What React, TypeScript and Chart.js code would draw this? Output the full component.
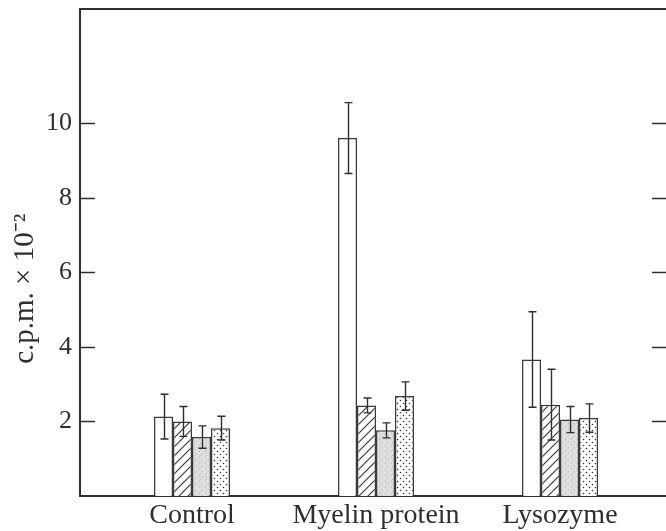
import React, { useEffect, useRef } from 'react';
import { Chart, registerables } from 'chart.js';

Chart.register(...registerables);

const categories = ['Control', 'Myelin protein', 'Lysozyme'];
const openValues = [2.13, 9.6, 3.66];
const openErrors = [0.6, 0.95, 1.28];
const hatchedValues = [2.0, 2.43, 2.45];
const hatchedErrors = [0.4, 0.2, 0.95];
const greyValues = [1.58, 1.76, 2.05];
const greyErrors = [0.3, 0.2, 0.35];
const dottedValues = [1.82, 2.68, 2.09];
const dottedErrors = [0.32, 0.38, 0.38];
const yTicks = [2, 4, 6, 8, 10];
const yTitle = 'c.p.m. \u00d7 10\u207b\u00b2';

const INK = '#2e2e2e';

function makeTile(size: number, draw: (c: CanvasRenderingContext2D) => void): CanvasPattern | string {
  const cv = document.createElement('canvas');
  cv.width = size;
  cv.height = size;
  const c = cv.getContext('2d');
  if (!c) return '#fff';
  draw(c);
  const p = c.createPattern(cv, 'repeat');
  return p || '#fff';
}

const errorBarPlugin = {
  id: 'errorBars',
  afterDatasetsDraw(chart: any) {
    const ctx = chart.ctx;
    const ys = chart.scales.y;
    ctx.save();
    ctx.strokeStyle = INK;
    ctx.lineWidth = 1.4;
    chart.data.datasets.forEach((ds: any, di: number) => {
      const meta = chart.getDatasetMeta(di);
      meta.data.forEach((bar: any, i: number) => {
        const v = ds.data[i].y;
        const e = ds.errors[i];
        const x = Math.round(bar.x) + 0.5;
        const top = ys.getPixelForValue(v + e);
        const bot = ys.getPixelForValue(v - e);
        const cap = 4;
        ctx.beginPath();
        ctx.moveTo(x, top);
        ctx.lineTo(x, bot);
        ctx.moveTo(x - cap, top);
        ctx.lineTo(x + cap, top);
        ctx.moveTo(x - cap, bot);
        ctx.lineTo(x + cap, bot);
        ctx.stroke();
      });
    });
    ctx.restore();
  },
};

const framePlugin = {
  id: 'frame',
  afterDraw(chart: any) {
    const ctx = chart.ctx;
    const ca = chart.chartArea;
    const ys = chart.scales.y;
    ctx.save();
    ctx.strokeStyle = INK;
    ctx.lineWidth = 2;
    ctx.beginPath();
    ctx.moveTo(ca.left, ca.top);
    ctx.lineTo(ca.right, ca.top);
    ctx.stroke();
    ctx.lineWidth = 1.3;
    ys.ticks.forEach((t: any) => {
      const py = Math.round(ys.getPixelForValue(t.value)) + 0.5;
      ctx.beginPath();
      ctx.moveTo(ca.left, py);
      ctx.lineTo(ca.left + 15, py);
      ctx.moveTo(ca.right - 14, py);
      ctx.lineTo(ca.right, py);
      ctx.stroke();
    });
    ctx.restore();
  },
};

export default function App() {
  const ref = useRef<HTMLCanvasElement>(null);

  useEffect(() => {
    if (!ref.current) return;

    const hatch = makeTile(9, (c) => {
      c.fillStyle = '#ffffff';
      c.fillRect(0, 0, 9, 9);
      c.strokeStyle = '#333';
      c.lineWidth = 1.1;
      c.beginPath();
      c.moveTo(0, 9);
      c.lineTo(9, 0);
      c.moveTo(-1, 1);
      c.lineTo(1, -1);
      c.moveTo(8, 10);
      c.lineTo(10, 8);
      c.stroke();
    });

    const grey = makeTile(6, (c) => {
      c.fillStyle = '#dcdcdc';
      c.fillRect(0, 0, 6, 6);
      c.fillStyle = '#bcbcbc';
      c.fillRect(1, 1, 1, 1);
      c.fillRect(4, 3, 1, 1);
      c.fillRect(2, 5, 1, 1);
      c.fillStyle = '#f0f0f0';
      c.fillRect(3, 0, 1, 1);
      c.fillRect(0, 4, 1, 1);
      c.fillRect(5, 2, 1, 1);
    });

    const dotted = makeTile(6, (c) => {
      c.fillStyle = '#ffffff';
      c.fillRect(0, 0, 6, 6);
      c.fillStyle = '#333';
      c.beginPath();
      c.arc(1.5, 1.5, 0.8, 0, Math.PI * 2);
      c.arc(4.5, 4.5, 0.8, 0, Math.PI * 2);
      c.fill();
    });

    const toPoints = (vals: number[]) => vals.map((v, i) => ({ x: i, y: v }));

    const common = {
      borderColor: '#3a3a3a',
      borderWidth: 1.5,
      barPercentage: 1,
      categoryPercentage: 0.413,
    };

    const chart = new Chart(ref.current, {
      type: 'bar',
      data: {
        datasets: [
          { ...common, label: 'open', data: toPoints(openValues), errors: openErrors, backgroundColor: '#ffffff' } as any,
          { ...common, label: 'hatched', data: toPoints(hatchedValues), errors: hatchedErrors, backgroundColor: hatch } as any,
          { ...common, label: 'grey', data: toPoints(greyValues), errors: greyErrors, backgroundColor: grey } as any,
          { ...common, label: 'dotted', data: toPoints(dottedValues), errors: dottedErrors, backgroundColor: dotted } as any,
        ],
      },
      options: {
        animation: false,
        responsive: false,
        devicePixelRatio: 1,
        layout: { padding: { top: 9, left: 0, right: 0, bottom: 0 } },
        plugins: {
          legend: { display: false },
          tooltip: { enabled: false },
        },
        scales: {
          x: {
            type: 'linear',
            offset: false,
            min: -0.6087,
            max: 2.576,
            afterBuildTicks: (s: any) => {
              s.ticks = categories.map((_, i) => ({ value: i }));
            },
            afterFit: (s: any) => {
              s.height = 35;
              s.paddingLeft = 0;
              s.paddingRight = 0;
            },
            ticks: {
              callback: (v: any) => categories[v] ?? '',
              autoSkip: false,
              maxRotation: 0,
              padding: 3,
              color: INK,
              font: { family: "'Liberation Serif', serif", size: 28 },
            },
            grid: { display: false, drawTicks: false, offset: false },
            border: { display: true, color: INK, width: 2 },
          },
          y: {
            type: 'linear',
            min: 0,
            max: 13.06,
            afterBuildTicks: (s: any) => {
              s.ticks = yTicks.map((v) => ({ value: v }));
            },
            afterFit: (s: any) => {
              s.width = 80;
              s.paddingTop = 0;
              s.paddingBottom = 0;
            },
            ticks: {
              autoSkip: false,
              padding: 8,
              color: INK,
              font: { family: "'Liberation Serif', serif", size: 26 },
            },
            grid: { drawOnChartArea: false, drawTicks: false },
            border: { display: true, color: INK, width: 2 },
            title: {
              display: true,
              text: yTitle + '          ',
              color: INK,
              padding: { top: 8, bottom: 0 },
              font: { family: "'Liberation Serif', serif", size: 29 },
            },
          },
        },
      } as any,
      plugins: [errorBarPlugin, framePlugin],
    });

    return () => chart.destroy();
  }, []);

  return (
    <div style={{ position: 'fixed', left: 0, top: 0, width: 666, height: 531, background: '#fff' }}>
      <canvas ref={ref} width={666} height={531} style={{ display: 'block' }} />
    </div>
  );
}
